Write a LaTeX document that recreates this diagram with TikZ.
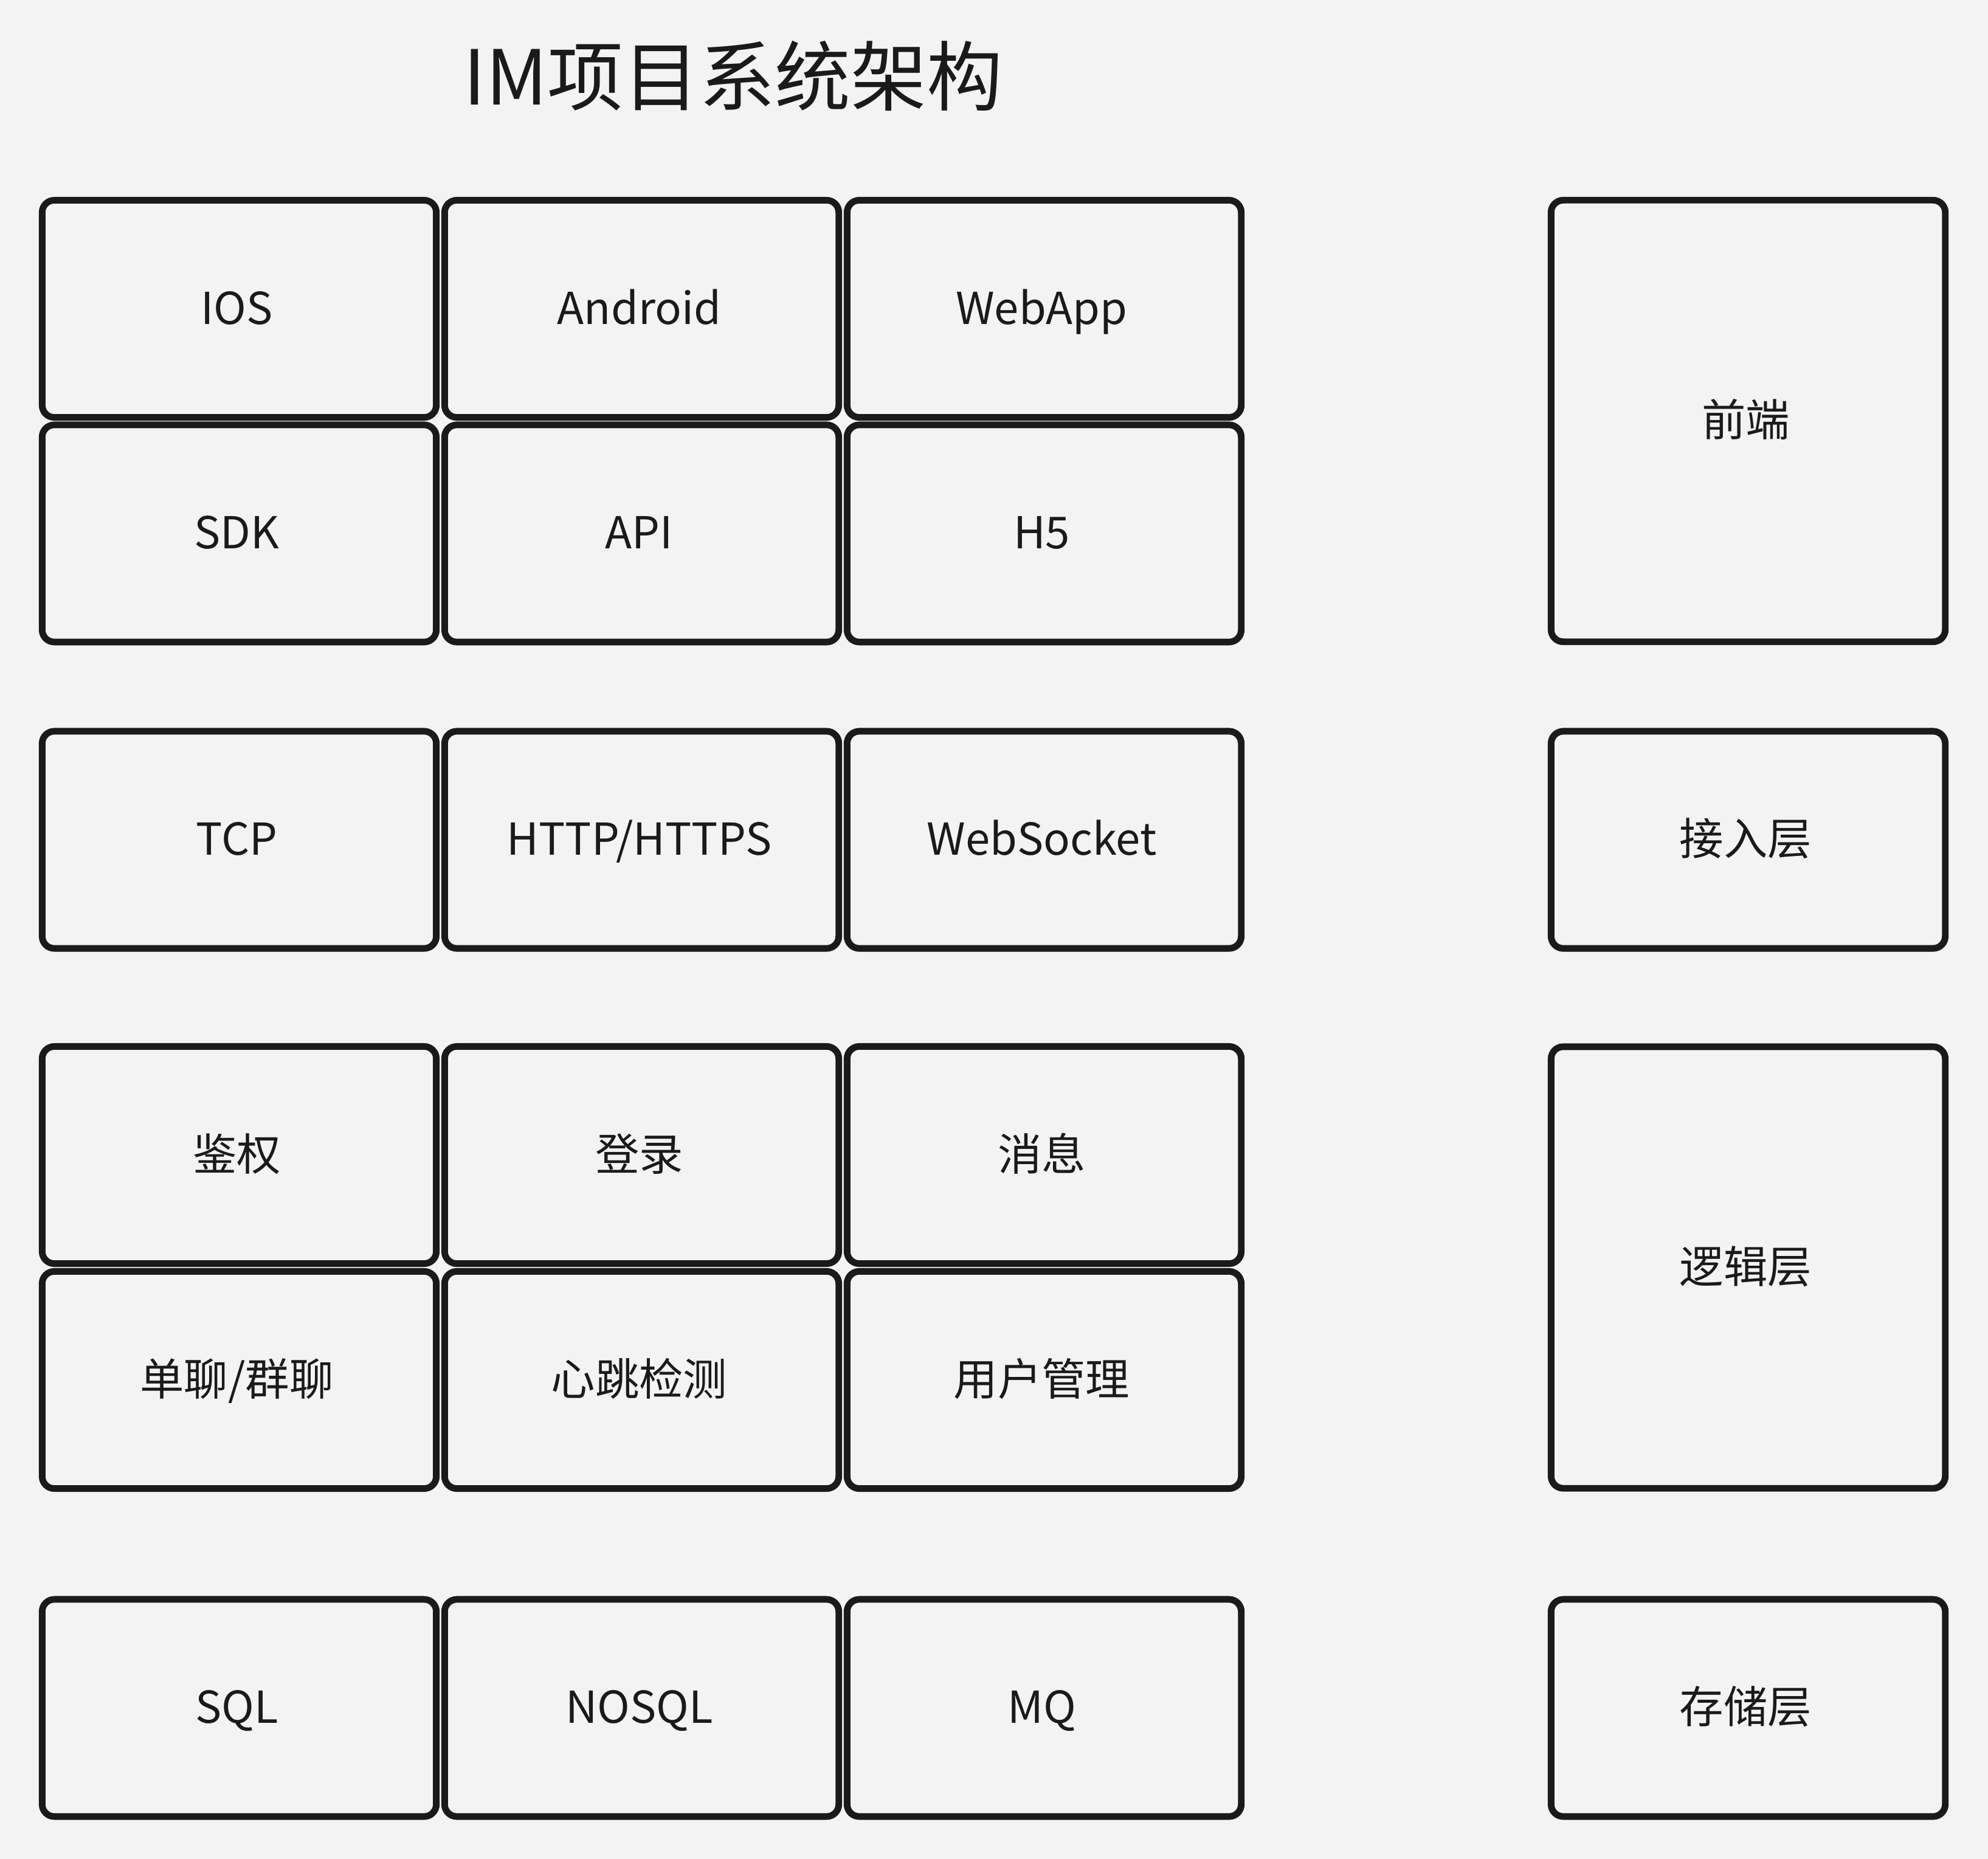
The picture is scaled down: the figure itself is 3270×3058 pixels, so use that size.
\documentclass[tikz,border=0pt]{standalone}
\usepackage{fontspec}
\setmainfont{Noto Sans CJK SC}
\definecolor{bgcol}{HTML}{F3F3F3}
\definecolor{inkcol}{HTML}{1A1A1A}
\tikzset{
	layerbox/.style={draw=inkcol, line width=3.1pt, rounded corners=0.2cm, fill=bgcol,
		text=inkcol, inner sep=0pt, minimum width=6.48cm, minimum height=3.57cm,
		font=\fontsize{20.6pt}{24pt}\selectfont, text height=0.6cm, text depth=0.1cm,
		execute at begin node=\hspace*{-0.08cm}},
	tallbox/.style={layerbox, minimum height=7.26cm},
	titletext/.style={text=inkcol, inner sep=0pt, font=\fontsize{35.5pt}{40pt}\selectfont}
}
\begin{document}
\begin{tikzpicture}[x=0.01cm, y=-0.01cm]
	\fill[bgcol] (0,0) rectangle (3270,3058);
	\node[titletext, anchor=base] (title) at (1206,173) {IM项目系统架构};
	% front end
	\node[layerbox] (ios) at (393.5,508) {IOS};
	\node[layerbox] (android) at (1055.5,508) {Android};
	\node[layerbox] (webapp) at (1717.5,508) {WebApp};
	\node[layerbox] (sdk) at (393.5,877.5) {SDK};
	\node[layerbox] (api) at (1055.5,877.5) {API};
	\node[layerbox] (hfive) at (1717.5,877.5) {H5};
	\node[tallbox] (frontend) at (2875.5,692.5) {前端};
	% access layer
	\node[layerbox] (tcp) at (393.5,1381.5) {TCP};
	\node[layerbox] (http) at (1055.5,1381.5) {HTTP/HTTPS};
	\node[layerbox] (websocket) at (1717.5,1381.5) {WebSocket};
	\node[layerbox] (access) at (2875.5,1381.5) {接入层};
	% logic layer
	\node[layerbox] (auth) at (393.5,1900) {鉴权};
	\node[layerbox] (login) at (1055.5,1900) {登录};
	\node[layerbox] (message) at (1717.5,1900) {消息};
	\node[layerbox] (chat) at (393.5,2270) {单聊/群聊};
	\node[layerbox] (heartbeat) at (1055.5,2270) {心跳检测};
	\node[layerbox] (users) at (1717.5,2270) {用户管理};
	\node[tallbox] (logic) at (2875.5,2085) {逻辑层};
	% storage layer
	\node[layerbox] (sql) at (393.5,2809.5) {SQL};
	\node[layerbox] (nosql) at (1055.5,2809.5) {NOSQL};
	\node[layerbox] (mq) at (1717.5,2809.5) {MQ};
	\node[layerbox] (storage) at (2875.5,2809.5) {存储层};
\end{tikzpicture}
\end{document}
